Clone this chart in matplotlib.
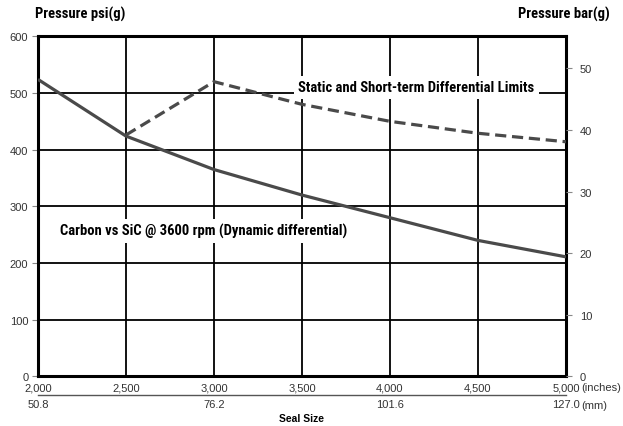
import matplotlib
matplotlib.use("Agg")
from matplotlib import pyplot as plt

# seal size (inches) and pressure (psi)
sizes = [2.0, 2.5, 3.0, 3.5, 4.0, 4.5, 5.0]
size_labels = ["2,000", "2,500", "3,000", "3,500", "4,000", "4,500", "5,000"]
mm_ticks = [50.8, 76.2, 101.6, 127.0]

dynamic = [524, 424, 365, 320, 280, 240, 211]
static_x = [2.5, 3.0, 3.5, 4.0, 4.5, 5.0]
static = [426, 520, 480, 450, 429, 414]

psi_ticks = [0, 100, 200, 300, 400, 500, 600]
bar_ticks = [0, 10, 20, 30, 40, 50]

narrow = ["Roboto Condensed", "Archivo Narrow", "Barlow Semi Condensed",
          "Asap Condensed", "DejaVu Sans"]
plt.rcParams['font.family'] = ['Liberation Sans', 'DejaVu Sans']

line_col = "#4a4a4a"
tick_col = "#333333"

fig = plt.figure(figsize=(6.23, 4.27), dpi=100)
ax = fig.add_axes([0.061, 0.116, 0.8475, 0.7966])

ax.plot(sizes, dynamic, color=line_col, lw=2.3, solid_capstyle='butt', zorder=4)
ax.plot(static_x, static, color=line_col, lw=2.3, dashes=(3.5, 1.8), zorder=4)

ax.set_xlim(2.0, 5.0)
ax.set_ylim(0, 600)
ax.set_xticks(sizes)
ax.set_xticklabels(size_labels)
ax.set_yticks(psi_ticks)
ax.grid(True, color="black", lw=1.3)
ax.set_axisbelow(True)
for s in ax.spines.values():
    s.set_linewidth(2.2)
    s.set_color("black")
ax.tick_params(axis='x', length=0, pad=4, labelsize=8, labelcolor=tick_col)
ax.tick_params(axis='y', length=4, width=0.8, color="#888888", labelsize=8,
               labelcolor=tick_col, pad=3)

# right axis in bar(g)
ax2 = ax.twinx()
ax2.set_ylim(0, 55.2)
ax2.set_yticks(bar_ticks)
ax2.tick_params(axis='y', length=4, width=0.8, color="#888888", labelsize=8,
                labelcolor=tick_col, pad=6)
for s in ax2.spines.values():
    s.set_visible(False)

# mm scale below the inch scale
sec = ax.secondary_xaxis('bottom', functions=(lambda x: x * 25.4, lambda x: x / 25.4))
sec.set_xticks(mm_ticks)
sec.set_xticklabels(["%.1f" % v for v in mm_ticks])
sec.spines['bottom'].set_position(('outward', 13))
sec.spines['bottom'].set_linewidth(1.0)
sec.spines['bottom'].set_color("#555555")
sec.tick_params(axis='x', length=0, pad=3, labelsize=8, labelcolor=tick_col)
sec.set_xlabel("Seal Size", fontsize=7.5, fontweight='bold', labelpad=3)

ax.annotate("(inches)", xy=(1.0, 0), xycoords='axes fraction', xytext=(11, -4),
            textcoords='offset points', ha='left', va='top', fontsize=8, color=tick_col)
ax.annotate("(mm)", xy=(1.0, 0), xycoords='axes fraction', xytext=(11, -17),
            textcoords='offset points', ha='left', va='top', fontsize=8, color=tick_col)

box = dict(facecolor='white', edgecolor='none', pad=3)
ax.text(4.15, 510, "Static and Short-term Differential Limits", ha='center', va='center',
        fontsize=10.5, fontweight='bold', family=narrow, bbox=box, zorder=3)
ax.text(2.94, 257, "Carbon vs SiC @ 3600 rpm (Dynamic differential)", ha='center',
        va='center', fontsize=10.5, fontweight='bold', family=narrow, bbox=box, zorder=3)

fig.text(35 / 623, 1 - 14 / 427, "Pressure psi(g)", ha='left', va='center',
         fontsize=10.5, fontweight='bold', family=narrow)
fig.text(610 / 623, 1 - 14 / 427, "Pressure bar(g)", ha='right', va='center',
         fontsize=10.5, fontweight='bold', family=narrow)

fig.savefig("out.png", dpi=100)
